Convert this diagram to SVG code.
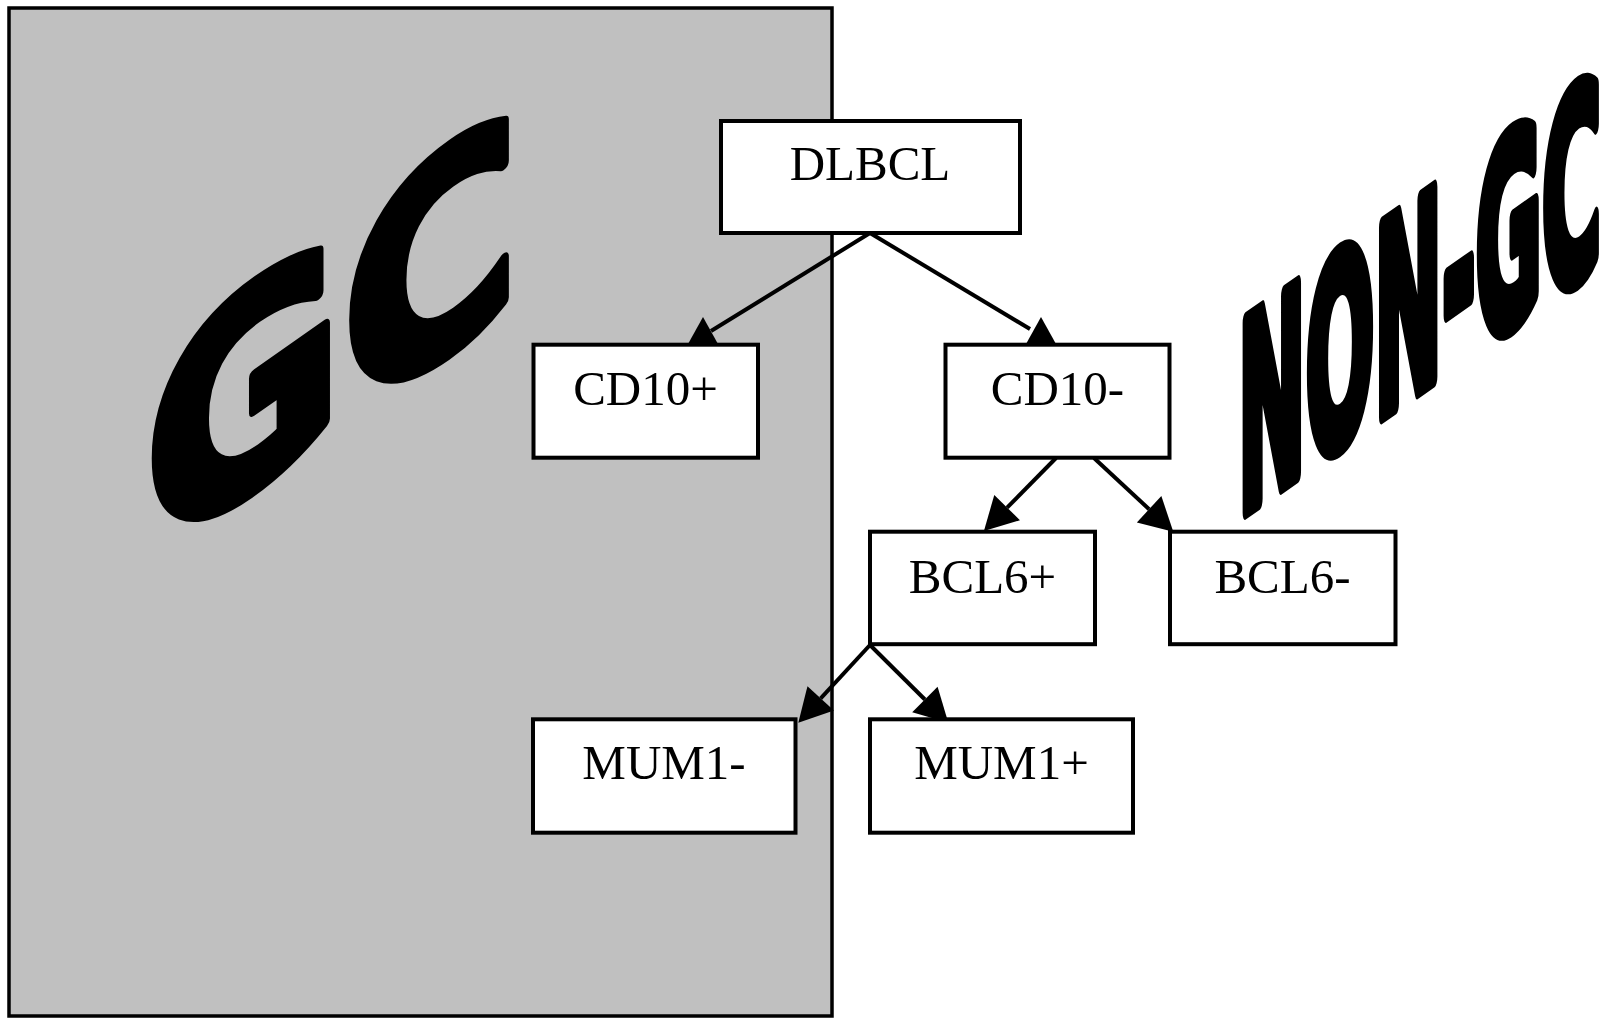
<svg xmlns="http://www.w3.org/2000/svg" xmlns:xlink="http://www.w3.org/1999/xlink" width="1606" height="1018" viewBox="0 0 1606 1018">
  <style>
    .box { fill: #ffffff; stroke: #000000; stroke-width: 4; }
    .lbl { font-family: "Liberation Serif", "Times New Roman", serif; font-size: 49px; fill: #000000; text-anchor: middle; }
    .edge { fill: none; stroke: #000000; stroke-width: 4; }
    .big { font-family: "DejaVu Sans", "Liberation Sans", sans-serif; font-weight: bold; fill: #000000; stroke: #000000; stroke-linejoin: round; }
  </style>
  <defs>
    <!-- filled arrowhead that follows the connector direction -->
    <marker id="head" markerUnits="userSpaceOnUse" markerWidth="40" markerHeight="40" refX="0" refY="0" orient="auto" overflow="visible">
      <path d="M0,-18 L33,0 L0,18 Z" fill="#000000"/>
    </marker>
    <!-- upright triangle resting on a box top -->
    <path id="tri-up" d="M0,0 L15,27 L-15,27 Z" fill="#000000"/>
  </defs>

  <rect width="1606" height="1018" fill="#ffffff"/>

  <!-- germinal-centre region -->
  <g id="gc-region">
    <rect x="9" y="8" width="823" height="1008" fill="#c0c0c0" stroke="#000000" stroke-width="3.5"/>
    <text class="big" font-size="275" stroke-width="12" textLength="374" lengthAdjust="spacingAndGlyphs" transform="translate(145,563) skewY(-35)">GC</text>
  </g>

  <!-- non-germinal-centre title -->
  <g id="non-gc-title">
    <text class="big" font-size="260" stroke-width="18" textLength="1168" lengthAdjust="spacingAndGlyphs" transform="translate(1238,516) skewY(-35) scale(0.311,1)">NON-GC</text>
  </g>

  <!-- connectors -->
  <g id="connectors">
    <line class="edge" x1="870" y1="233" x2="711" y2="331"/>
    <use xlink:href="#tri-up" href="#tri-up" x="703" y="317"/>
    <line class="edge" x1="870" y1="233" x2="1030" y2="329"/>
    <use xlink:href="#tri-up" href="#tri-up" x="1041" y="317"/>
    <line class="edge" x1="1056" y1="458" x2="1007.1" y2="507.6" marker-end="url(#head)"/>
    <line class="edge" x1="1094" y1="458" x2="1149.1" y2="509.2" marker-end="url(#head)"/>
    <line class="edge" x1="870" y1="645" x2="820.7" y2="698.4" marker-end="url(#head)"/>
    <line class="edge" x1="870" y1="645" x2="924.9" y2="699.5" marker-end="url(#head)"/>
  </g>

  <!-- nodes -->
  <g id="node-dlbcl">
    <rect class="box" x="721" y="121" width="299" height="112"/>
    <text class="lbl" x="870" y="180">DLBCL</text>
  </g>
  <g id="node-cd10-pos">
    <rect class="box" x="533.5" y="344.7" width="224.5" height="113"/>
    <text class="lbl" x="645.5" y="405">CD10+</text>
  </g>
  <g id="node-cd10-neg">
    <rect class="box" x="945.5" y="344.7" width="224" height="113"/>
    <text class="lbl" x="1057.5" y="405">CD10-</text>
  </g>
  <g id="node-bcl6-pos">
    <rect class="box" x="870" y="531.7" width="225" height="112.5"/>
    <text class="lbl" x="982.5" y="593">BCL6+</text>
  </g>
  <g id="node-bcl6-neg">
    <rect class="box" x="1170" y="531.7" width="225.5" height="112.5"/>
    <text class="lbl" x="1282.5" y="593">BCL6-</text>
  </g>
  <g id="node-mum1-neg">
    <rect class="box" x="533" y="719.3" width="262.5" height="113.4"/>
    <text class="lbl" x="664" y="779">MUM1-</text>
  </g>
  <g id="node-mum1-pos">
    <rect class="box" x="870" y="719.3" width="263" height="113.4"/>
    <text class="lbl" x="1001.5" y="779">MUM1+</text>
  </g>
</svg>
